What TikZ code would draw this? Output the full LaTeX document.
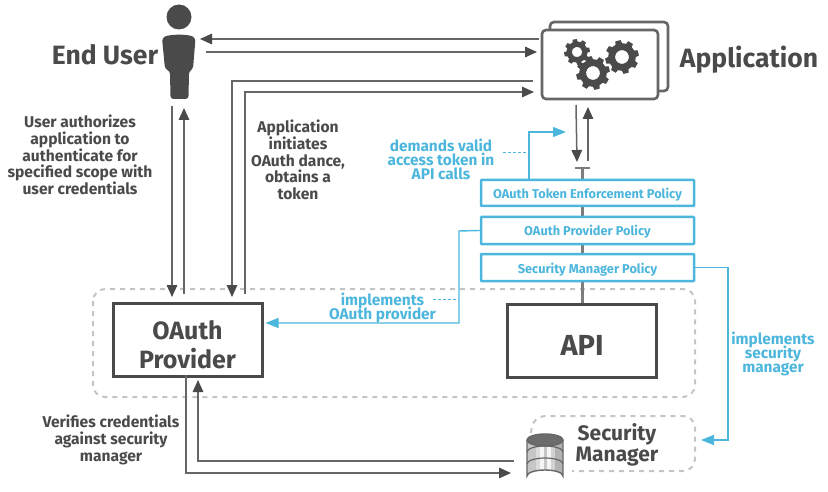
\documentclass[tikz,border=0pt]{standalone}
\usepackage{fontspec}
\setmainfont{Fira Sans}
\usetikzlibrary{arrows.meta}
\lineskiplimit=-30pt
\definecolor{dk}{HTML}{4A4A4A}
\definecolor{ln}{HTML}{666666}
\definecolor{bl}{HTML}{4DB6DC}
\definecolor{dsh}{HTML}{C4C4C4}
\tikzset{
  x=1pt,y=-1pt,
  conn/.style={draw=ln,line width=1.5pt},
  tip/.style={conn,-{Triangle[length=12pt,width=10.5pt,color=dk]}},
  blconn/.style={draw=bl,line width=1.4pt},
  bltip/.style={blconn,-{Triangle[length=13pt,width=10pt]}},
  bldash/.style={draw=bl,line width=1pt,dash pattern=on 3pt off 2pt},
  greydash/.style={draw=dsh,line width=2pt,dash pattern=on 5pt off 5pt},
  mainbox/.style={draw=dk,line width=3pt,fill=white,minimum width=149pt,minimum height=73pt,inner sep=0pt},
  boxtext/.style={inner sep=0pt,align=center,text=dk,font=\bfseries\fontsize{25}{29}\selectfont},
  policy/.style={draw=bl,fill=white,line width=2.5pt,rounded corners=0.6pt,minimum width=213pt,inner sep=0pt,text height=12pt,text depth=1pt,text=bl,font=\bfseries\fontsize{12.8}{14}\selectfont},
  title/.style={text=dk,inner sep=0pt,font=\bfseries\fontsize{26.5}{28}\selectfont},
  note/.style={text=dk,inner sep=0pt,align=center,font=\bfseries\fontsize{15.6}{16.6}\selectfont},
  blnote/.style={text=bl,inner sep=0pt,align=center,font=\bfseries\fontsize{15.4}{14}\selectfont},
  card/.style={draw=ln,line width=2.6pt,fill=white,rounded corners=4pt,inner sep=0pt},
}
\newcommand{\gearat}[5]{% x,y,outer,root,hole
  \begin{scope}[shift={(#1,#2)},rotate=#5]
  \fill[dk,even odd rule] (-14:#4) \foreach \a in {0,45,...,315}{ -- (\a-14:#4) -- (\a-9:#3) -- (\a+9:#3) -- (\a+14:#4)} -- cycle (0,0) circle (#4*0.5);
  \end{scope}}
\begin{document}
\begin{tikzpicture}
\useasboundingbox (0,0) rectangle (828,492);
% person
\coordinate (u) at (179,17);
\fill[dk] (u) circle (12.5);
\fill[dk,rounded corners=3pt] (162,38) .. controls (170,34) and (188,34) .. (195.5,38) -- (193,69) -- (189,71) -- (188.5,99) -- (170.5,99) -- (170,71) -- (165,69) -- cycle;
\node[title] (euser) at (105,55) {End User};
% application
\node[card,minimum width=118pt,minimum height=69pt] (appback) at (609,56.5) {};
\node[card,minimum width=116pt,minimum height=69pt] (app) at (600,64.5) {};
\gearat{577}{52}{13}{10.5}{10.5}{0}
\gearat{622}{57}{17}{13.8}{14}{10}
\gearat{593}{73}{17}{13.8}{14}{5}
\node[title] (apptitle) at (749,60) {Application};
% dashed containers
\draw[greydash,rounded corners=12pt] (93,289) rectangle (695,397);
\coordinate (sa) at (531,433);
\draw[greydash,rounded corners=12pt] (sa) -- (533,416) -- (695,416) -- (695,471) -- (572,471);
% boxes
\node[mainbox] (oauth) at (187.5,339.5) {};
\node[boxtext] (oauthtext) at (187.5,345) {OAuth\\Provider};
\node[mainbox] (api) at (582,340.5) {};
\node[boxtext,font=\bfseries\fontsize{29}{32}\selectfont] (apitext) at (582,345) {API};
% policies
\coordinate (tbar) at (582,168);
\draw[draw=ln!85,line width=3pt] (tbar) -- (api.north);
\draw[draw=ln!85,line width=2.4pt] (575,168) -- (590,168);
\node[policy,minimum height=26pt] (p1) at (587.5,193) {OAuth Token Enforcement Policy};
\node[policy,minimum height=27pt] (p2) at (587.5,230.5) {OAuth Provider Policy};
\node[policy,minimum height=27pt] (p3) at (587.5,267.5) {Security Manager Policy};
% top connectors
\coordinate (a1s) at (539,39); \coordinate (a1e) at (200,39);
\coordinate (a2s) at (206,52); \coordinate (a2e) at (537,52);
\coordinate (a3s) at (533,81); \coordinate (a3c) at (232,81); \coordinate (a3e) at (232,297);
\coordinate (a4s) at (245,294); \coordinate (a4c) at (245,92); \coordinate (a4e) at (534,92);
\coordinate (a5s) at (172,106); \coordinate (a5e) at (172,297);
\coordinate (a6s) at (184,294); \coordinate (a6e) at (184,108);
\draw[tip] (a1s) -- (a1e);
\draw[tip] (a2s) -- (a2e);
\draw[tip] (a3s) -- (a3c) -- (a3e);
\draw[tip] (a4s) -- (a4c) -- (a4e);
\draw[tip] (a5s) -- (a5e);
\draw[tip] (a6s) -- (a6e);
% app-gateway
\coordinate (g1s) at (576,105); \coordinate (g1e) at (577,162);
\coordinate (g2s) at (588,161); \coordinate (g2e) at (588,107);
\draw[tip] (g1s) -- (g1e);
\draw[tip] (g2s) -- (g2e);
% bottom
\coordinate (b1s) at (186,375); \coordinate (b1c) at (186,473); \coordinate (b1e) at (511,473);
\coordinate (b2s) at (514,461); \coordinate (b2c) at (198,461); \coordinate (b2e) at (198,380);
\draw[tip] (b1s) -- (b1c) -- (b1e);
\draw[tip] (b2s) -- (b2c) -- (b2e);
% blue
\coordinate (c1a) at (529,180.5); \coordinate (c1b) at (529,132); \coordinate (c1e) at (566,132);
\draw[bltip] (c1a) -- (c1b) -- (c1e);
\coordinate (c1d) at (503,153); \coordinate (c1f) at (529,153);
\draw[bldash] (c1d) -- (c1f);
\coordinate (c2b) at (459,231); \coordinate (c2c) at (459,323);
\draw[bltip] (p2.west) -- (c2b) -- (c2c) -- ([xshift=2pt]oauth.east|-c2c);
\coordinate (c2d) at (433,299); \coordinate (c2f) at (459,299);
\draw[bldash] (c2d) -- (c2f);
\coordinate (c3b) at (728,267.5); \coordinate (c3c) at (728,440); \coordinate (c3e) at (701,440);
\draw[bltip] (p3.east) -- (c3b) -- (c3c) -- (c3e);
% database
\begin{scope}[shift={(545,0)}]
\begin{scope}
\clip (-18,440) -- (-18,476) arc[start angle=180,end angle=360,x radius=18,y radius=6] -- (18,440) arc[start angle=0,end angle=180,x radius=18,y radius=6];
\fill[gray!45] (-18,430) rectangle (-9,485);
\fill[gray!28] (-9,430) rectangle (-5,485);
\fill[gray!8] (-5,430) rectangle (-1,485);
\fill[gray!45] (-1,430) rectangle (2,485);
\fill[gray!8] (2,430) rectangle (6,485);
\fill[gray!35] (6,430) rectangle (10,485);
\fill[gray!60] (10,430) rectangle (18,485);
\end{scope}
\fill[gray!85!black] (0,440) ellipse (18 and 6);
\draw[ln,line width=1.4pt] (0,440) ellipse (18 and 6);
\draw[ln,line width=1.4pt] (-18,440) -- (-18,476) arc[start angle=180,end angle=360,x radius=18,y radius=6] -- (18,440);
\draw[ln,line width=1.2pt] (-18,452) arc[start angle=180,end angle=360,x radius=18,y radius=6];
\draw[ln,line width=1.2pt] (-18,464) arc[start angle=180,end angle=360,x radius=18,y radius=6];
\end{scope}
% texts
\node[note,font=\bfseries\fontsize{21}{21}\selectfont] (sm) at (617,445) {Security\\Manager};
\node[note] (n1) at (80,155) {User authorizes\\application to\\authenticate for\\specified scope with\\user credentials};
\node[note] (n2) at (298,160) {Application\\initiates\\OAuth dance,\\obtains a\\token};
\node[note] (n3) at (111,440) {Verifies credentials\\against security\\manager};
\node[blnote] (b1) at (441,159) {demands valid\\access token in\\API calls};
\node[blnote] (b2) at (382.5,307.5) {implements\\OAuth provider};
\node[blnote] (b3) at (773,354) {implements\\security\\manager};
\end{tikzpicture}
\end{document}
